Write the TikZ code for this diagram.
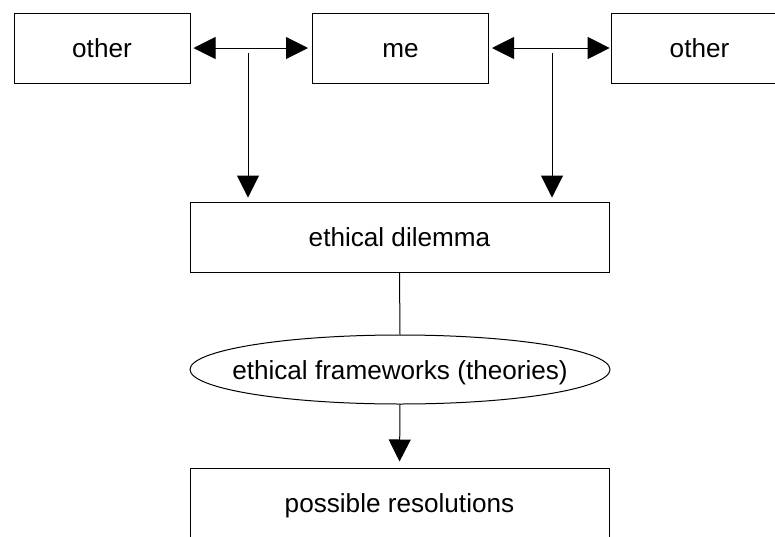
\documentclass[tikz,border=0pt]{standalone}
\usepackage{fontspec}
\setmainfont{Liberation Sans}
\usetikzlibrary{arrows.meta,shapes.geometric}
\begin{document}
\begin{tikzpicture}[x=0.75pt,y=-0.75pt,
  every node/.style={font=\fontsize{19.6pt}{23pt}\selectfont, inner sep=0pt, text height=18pt, text depth=3.5pt},
  smallbox/.style={draw, line width=0.75pt, rectangle, minimum width=132pt, minimum height=52.5pt},
  bigbox/.style={draw, line width=0.75pt, rectangle, minimum width=314.25pt, minimum height=52.5pt},
  ovalholder/.style={rectangle, minimum width=315pt, minimum height=51.75pt},
  oval/.style={draw, line width=0.75pt},
  conn/.style={line width=0.75pt},
  arr/.style={conn, -{Triangle[length=16.5pt,width=16.5pt]}},
  dblarr/.style={conn, {Triangle[length=16.5pt,width=16.5pt]}-{Triangle[length=16.5pt,width=16.5pt]}}
]
\useasboundingbox (0,0) rectangle (775,536);
\clip (0,0) rectangle (775,536);
\fill[white] (0,0) rectangle (775,536);

\node[smallbox] (o1) at (102,48) {other};
\node[smallbox] (me) at (400.5,48) {me};
\node[smallbox] (o2) at (699.5,48) {other};
\node[bigbox] (dil) at (399.5,237) {ethical dilemma};
\node[ovalholder] (fw) at (400,369.5) {ethical frameworks (theories)};
\draw[oval] (fw.center) ellipse [x radius=210, y radius=34.5];
\node[bigbox] (res) at (399.5,503) {possible resolutions};

\coordinate (j1) at (248,53);
\coordinate (j2) at (552,53);

\draw[dblarr, shorten <=2.25pt, shorten >=3pt] (o1.east) -- (me.west);
\draw[dblarr, shorten <=2.25pt, shorten >=1pt] (me.east) -- (o2.west);
\draw[arr, shorten >=3pt] (j1) -- (j1 |- dil.north);
\draw[arr, shorten >=3pt] (j2) -- (j2 |- dil.north);
\draw[conn] (dil.south) -- (fw.north);
\draw[arr, shorten >=4.5pt] (fw.south) -- (res.north);
\end{tikzpicture}
\end{document}
